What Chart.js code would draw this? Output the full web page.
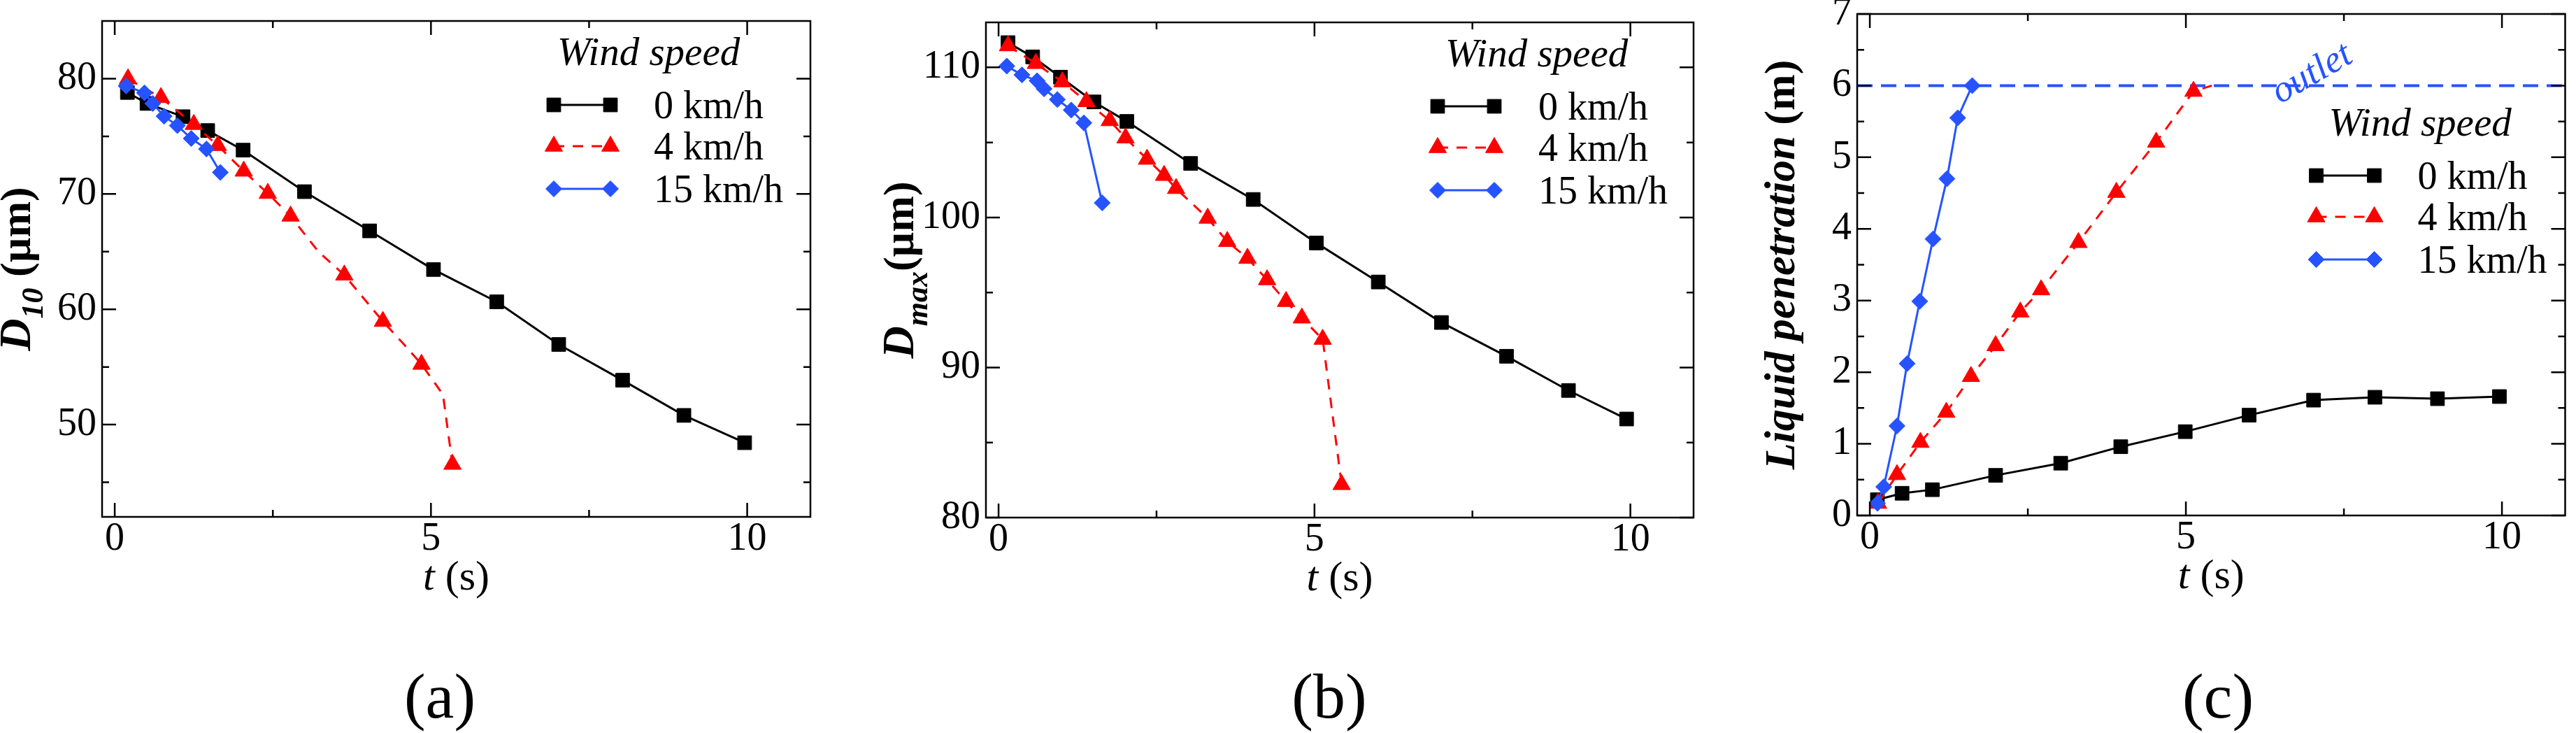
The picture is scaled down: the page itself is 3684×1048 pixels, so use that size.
<!DOCTYPE html>
<html>
<head>
<meta charset="utf-8">
<script src="https://cdn.jsdelivr.net/npm/chart.js@4.4.0/dist/chart.umd.min.js"></script>
<style>
  body { margin: 0; background: #fff; width: 3684px; height: 1048px; overflow: hidden; position: relative; font-family: "Liberation Serif", serif; }
  .panel { position: absolute; top: -40px; height: 940px; }
  .tag { position: absolute; top: 949px; font-size: 92px; line-height: 92px; transform: translateX(-50%); color: #000; }
</style>
</head>
<body>
<div class="panel" style="left:0px;width:1200px"><canvas id="chartA" width="1200" height="940"></canvas></div>
<div class="panel" style="left:1200px;width:1260px"><canvas id="chartB" width="1260" height="940"></canvas></div>
<div class="panel" style="left:2460px;width:1224px"><canvas id="chartC" width="1224" height="940"></canvas></div>
<div class="tag" style="left:629px">(a)</div>
<div class="tag" style="left:1901px">(b)</div>
<div class="tag" style="left:3172px">(c)</div>
<script>
// ---- data ----
// (a) D10 (um)
var tA0 = [0.2, 0.51, 1.08, 1.47, 2.03, 3.0, 4.03, 5.04, 6.04, 7.02, 8.03, 9.0, 9.96];
var vA0 = [78.8, 77.85, 76.7, 75.5, 73.8, 70.2, 66.8, 63.45, 60.65, 56.95, 53.85, 50.8, 48.43];
var tA4 = [0.21, 0.73, 1.25, 1.63, 2.04, 2.42, 2.78, 3.22, 3.63, 4.24, 4.55, 4.85, 5.19, 5.34];
var vA4 = [79.98, 78.36, 76.03, 74.2, 71.98, 70.05, 68.08, 65.0, 62.97, 58.95, 57.1, 55.23, 52.6, 46.56];
var skipA4 = [7, 10, 12]; // points on the curve with no symbol
var tA15 = [0.18, 0.47, 0.6, 0.78, 0.99, 1.21, 1.45, 1.67];
var vA15 = [79.37, 78.77, 77.85, 76.74, 75.93, 74.81, 73.9, 71.87];

// (b) Dmax (um)
var tB0 = [0.15, 0.54, 0.98, 1.51, 2.03, 3.04, 4.03, 5.03, 6.01, 7.01, 8.04, 9.02, 9.94];
var vB0 = [111.65, 110.7, 109.35, 107.7, 106.4, 103.6, 101.2, 98.3, 95.7, 93.0, 90.75, 88.47, 86.57];
var tB4 = [0.15, 0.59, 1.01, 1.39, 1.76, 2.01, 2.35, 2.62, 2.81, 3.31, 3.62, 3.94, 4.25, 4.55, 4.8, 5.13, 5.43];
var vB4 = [111.44, 110.26, 109.04, 107.72, 106.45, 105.3, 103.88, 102.8, 101.93, 99.95, 98.4, 97.28, 95.85, 94.4, 93.3, 91.88, 82.2];
var tB15 = [0.13, 0.37, 0.61, 0.72, 0.93, 1.15, 1.35, 1.64];
var vB15 = [110.09, 109.5, 109.11, 108.57, 107.86, 107.16, 106.3, 100.97];

// (c) liquid penetration (m)
var tC0 = [0.12, 0.51, 0.99, 1.99, 3.02, 3.97, 4.99, 6.0, 7.02, 7.99, 8.98, 9.96];
var vC0 = [0.22, 0.31, 0.36, 0.56, 0.73, 0.96, 1.17, 1.4, 1.61, 1.65, 1.63, 1.66];
var tC4 = [0.13, 0.43, 0.8, 1.21, 1.6, 1.99, 2.38, 2.71, 3.3, 3.9, 4.53, 5.12, 5.41];
var vC4 = [0.17, 0.57, 1.02, 1.44, 1.94, 2.37, 2.84, 3.15, 3.81, 4.51, 5.21, 5.92, 6.0];
var skipC4 = [12];
var tC15 = [0.12, 0.22, 0.43, 0.59, 0.79, 1.0, 1.22, 1.39, 1.62];
var vC15 = [0.17, 0.4, 1.25, 2.12, 2.99, 3.86, 4.7, 5.55, 6.0];
var outletLevel = 6;

var seriesNames = ['0 km/h', '4 km/h', '15 km/h'];
var xRange = [-0.2, 11];
var xMajor = [0, 5, 10];
var xMinor = [2.5, 7.5];

var SERIF = '"Liberation Serif", "Times New Roman", serif';
var BLACK = '#000000', RED = '#ff0000', BLUE = '#2653ff';

function pts(t, v) {
  return t.map(function(x, i) { return { x: x, y: v[i] }; });
}

function series(label, t, v, color, style, radius, dash, order, skip) {
  return {
    label: label,
    data: pts(t, v),
    showLine: true,
    borderColor: color,
    backgroundColor: color,
    borderWidth: 3,
    borderDash: dash,
    pointStyle: style,
    pointRadius: skip ? function(c) { return skip.indexOf(c.dataIndex) >= 0 ? 0 : radius; } : radius,
    pointBorderWidth: 1,
    pointBackgroundColor: color,
    pointBorderColor: color,
    order: order,
    clip: false
  };
}

function threeSeries(t0, v0, t4, v4, t15, v15, skip4) {
  return [
    series(seriesNames[0], t0, v0, BLACK, 'rect', 14, [], 2),
    series(seriesNames[1], t4, v4, RED, 'triangle', 14.5, [15, 12], 1, skip4),
    series(seriesNames[2], t15, v15, BLUE, 'rectRot', 11.5, [], 0)
  ];
}

function marker(ctx, ds, x, y) {
  ctx.fillStyle = ds.borderColor;
  ctx.strokeStyle = ds.borderColor;
  ctx.lineWidth = 1;
  ctx.setLineDash([]);
  var r = typeof ds.pointRadius === 'number' ? ds.pointRadius : 14.5;
  Chart.helpers.drawPoint(ctx, { pointStyle: ds.pointStyle, radius: r, rotation: 0, borderWidth: 1 }, x, y);
}

function drawRich(ctx, parts, x, y) {
  parts.forEach(function(p) {
    ctx.font = p.font;
    ctx.fillText(p.text, x, y + (p.dy || 0));
    x += ctx.measureText(p.text).width;
  });
}
function richWidth(ctx, parts) {
  var w = 0;
  parts.forEach(function(p) { ctx.font = p.font; w += ctx.measureText(p.text).width; });
  return w;
}

// frame, mirrored inside ticks, axis titles and the legend
function makeDecor(cfg) {
  return {
    id: 'decor',
    afterDraw: function(chart) {
      var ctx = chart.ctx, ca = chart.chartArea;
      var xs = chart.scales.x, ys = chart.scales.y;
      ctx.save();
      ctx.strokeStyle = '#000';
      ctx.lineWidth = 2.5;
      ctx.setLineDash([]);
      ctx.strokeRect(ca.left, ca.top, ca.right - ca.left, ca.bottom - ca.top);

      function xt(vals, len) {
        vals.forEach(function(v) {
          var p = xs.getPixelForValue(v);
          ctx.beginPath();
          ctx.moveTo(p, ca.bottom); ctx.lineTo(p, ca.bottom - len);
          ctx.moveTo(p, ca.top); ctx.lineTo(p, ca.top + len);
          ctx.stroke();
        });
      }
      function yt(vals, len) {
        vals.forEach(function(v) {
          var p = ys.getPixelForValue(v);
          ctx.beginPath();
          ctx.moveTo(ca.left, p); ctx.lineTo(ca.left + len, p);
          ctx.moveTo(ca.right, p); ctx.lineTo(ca.right - len, p);
          ctx.stroke();
        });
      }
      xt(xMajor, 20); xt(xMinor, 10);
      yt(cfg.yMajor, 20); yt(cfg.yMinor, 10);

      ctx.fillStyle = '#000';
      ctx.textAlign = 'left';
      ctx.textBaseline = 'alphabetic';

      // x title: t (s)
      var xp = [{ text: 't', font: 'italic 60px ' + SERIF }, { text: ' (s)', font: '60px ' + SERIF }];
      drawRich(ctx, xp, (ca.left + ca.right) / 2 - richWidth(ctx, xp) / 2, ca.bottom + 104);

      // y title, rotated
      ctx.save();
      ctx.translate(ca.left + cfg.yTitleX, (ca.top + ca.bottom) / 2);
      ctx.rotate(-Math.PI / 2);
      drawRich(ctx, cfg.yTitle, -richWidth(ctx, cfg.yTitle) / 2, 0);
      ctx.restore();

      // legend
      var lg = cfg.legend;
      var x0 = ca.right + lg.x, y0 = ca.top + lg.y;
      ctx.font = 'italic 57px ' + SERIF;
      ctx.fillStyle = '#000';
      ctx.fillText('Wind speed', x0 + lg.wx, y0);
      var rows = [57, 116, 177];
      chart.data.datasets.slice(0, 3).forEach(function(ds, i) {
        var y = y0 + rows[i];
        ctx.strokeStyle = ds.borderColor;
        ctx.lineWidth = ds.borderWidth;
        ctx.setLineDash(ds.borderDash || []);
        ctx.beginPath();
        ctx.moveTo(x0 + 10, y); ctx.lineTo(x0 + lg.len - 10, y);
        ctx.stroke();
        marker(ctx, ds, x0 + 10, y);
        marker(ctx, ds, x0 + lg.len - 10, y);
        ctx.fillStyle = '#000';
        ctx.font = '56px ' + SERIF;
        ctx.fillText(ds.label, x0 + lg.tx, y + 19);
      });

      if (cfg.outlet) {
        ctx.save();
        ctx.translate(xs.getPixelForValue(cfg.outlet.x), ys.getPixelForValue(cfg.outlet.y));
        ctx.rotate(-30 * Math.PI / 180);
        ctx.font = 'italic 54px ' + SERIF;
        ctx.fillStyle = BLUE;
        ctx.textAlign = 'center';
        ctx.textBaseline = 'middle';
        ctx.fillText('outlet', 0, 0);
        ctx.restore();
      }
      ctx.restore();
    }
  };
}

function makeChart(id, datasets, cfg) {
  var tickFont = { family: SERIF, size: 56, lineHeight: 1 };
  return new Chart(document.getElementById(id), {
    type: 'scatter',
    data: { datasets: datasets },
    options: {
      responsive: false,
      animation: false,
      devicePixelRatio: 1,
      events: [],
      layout: { padding: { left: 0, right: cfg.padRight, top: cfg.padTop, bottom: 0 } },
      plugins: { legend: { display: false }, tooltip: { enabled: false } },
      scales: {
        x: {
          type: 'linear', min: xRange[0], max: xRange[1],
          grid: { display: false, drawTicks: false }, border: { display: false },
          ticks: { font: tickFont, color: '#000', padding: 4, maxRotation: 0 },
          afterBuildTicks: function(s) { s.ticks = xMajor.map(function(v) { return { value: v }; }); },
          afterFit: function(s) { s.height = cfg.xHeight; }
        },
        y: {
          type: 'linear', min: cfg.yMin, max: cfg.yMax,
          grid: { display: false, drawTicks: false }, border: { display: false },
          ticks: { font: tickFont, color: '#000', padding: 8 },
          afterBuildTicks: function(s) { s.ticks = cfg.yMajor.map(function(v) { return { value: v }; }); },
          afterFit: function(s) { s.width = cfg.yWidth; }
        }
      }
    },
    plugins: [makeDecor(cfg)]
  });
}

var dsA = threeSeries(tA0, vA0, tA4, vA4, tA15, vA15, skipA4);
var dsB = threeSeries(tB0, vB0, tB4, vB4, tB15, vB15, null);
var dsC = threeSeries(tC0, vC0, tC4, vC4, tC15, vC15, skipC4);
dsC.push({
  label: 'outlet', data: [{ x: xRange[0], y: outletLevel }, { x: xRange[1], y: outletLevel }],
  showLine: true, borderColor: BLUE, borderWidth: 4, borderDash: [22, 12], pointRadius: 0, order: 3
});

makeChart('chartA', dsA, {
  yMin: 42, yMax: 85, yMajor: [50, 60, 70, 80], yMinor: [45, 55, 65, 75],
  yWidth: 146, padRight: 41, padTop: 70, xHeight: 161,
  yTitleX: -103,
  yTitle: [
    { text: 'D', font: 'bold italic 64px ' + SERIF },
    { text: '10', font: 'bold italic 44px ' + SERIF, dy: 18 },
    { text: ' (\u00b5m)', font: 'bold 62px ' + SERIF }
  ],
  legend: { x: -377, y: 63, wx: 15, len: 101, tx: 153 }
});

makeChart('chartB', dsB, {
  yMin: 80, yMax: 113, yMajor: [80, 90, 100, 110], yMinor: [85, 95, 105],
  yWidth: 210, padRight: 38, padTop: 72, xHeight: 160,
  yTitleX: -104,
  yTitle: [
    { text: 'D', font: 'bold italic 64px ' + SERIF },
    { text: 'max', font: 'bold italic 44px ' + SERIF, dy: 20 },
    { text: '(\u00b5m)', font: 'bold 62px ' + SERIF }
  ],
  legend: { x: -376, y: 63, wx: 21, len: 101, tx: 154 }
});

makeChart('chartC', dsC, {
  yMin: 0, yMax: 7, yMajor: [0, 1, 2, 3, 4, 5, 6, 7], yMinor: [0.5, 1.5, 2.5, 3.5, 4.5, 5.5, 6.5],
  yWidth: 196, padRight: 3, padTop: 60, xHeight: 163,
  yTitleX: -90,
  yTitle: [
    { text: 'Liquid penetration ', font: 'bold italic 62px ' + SERIF },
    { text: '(m)', font: 'bold 62px ' + SERIF }
  ],
  legend: { x: -366, y: 174, wx: 28, len: 103, tx: 155 },
  outlet: { x: 7.0, y: 6.16 }
});
</script>
</body>
</html>
